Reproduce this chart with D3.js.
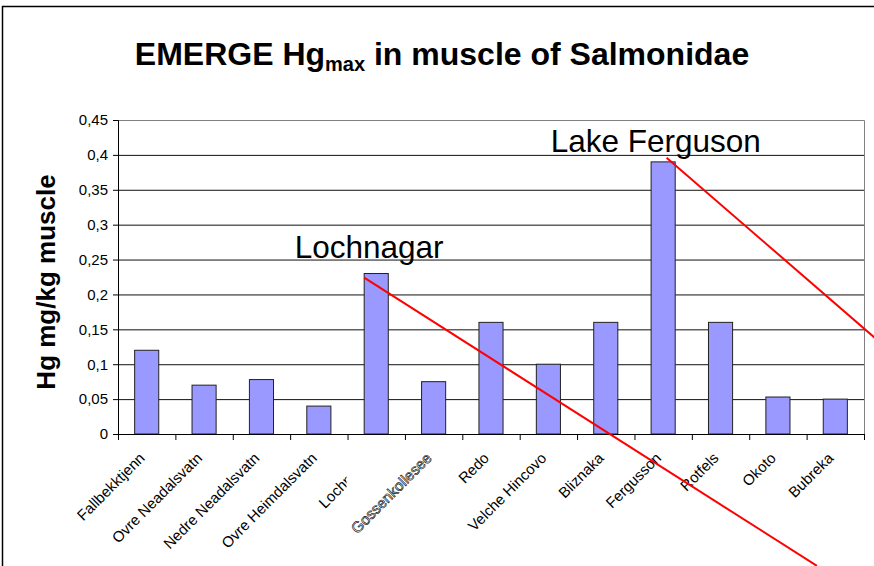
<!DOCTYPE html>
<html>
<head>
<meta charset="utf-8">
<script src="https://cdn.jsdelivr.net/npm/d3@7"></script>
<style>
  body { margin: 0; background: #fff; }
  svg { display: block; font-family: "Liberation Sans", Arial, sans-serif; }
</style>
</head>
<body>
<svg id="chart"></svg>
<script>
// lakes and Hg max values (mg/kg muscle)
const lakes = ["Fallbekktjenn", "Ovre Neadalsvatn", "Nedre Neadalsvatn", "Ovre Heimdalsvatn", "Lochnagar",
  "Gossenkollesee", "Redo", "Velche Hincovo", "Bliznaka", "Fergusson", "Rotfels", "Okoto", "Bubreka"];
const hgMax = [0.12, 0.07, 0.078, 0.04, 0.23, 0.075, 0.16, 0.1, 0.16, 0.39, 0.16, 0.053, 0.05];
const yTicks = [0, 0.05, 0.1, 0.15, 0.2, 0.25, 0.3, 0.35, 0.4, 0.45];

// callouts, in category-index / value units
const calloutLabels = ["Lochnagar", "Lake Ferguson"];
const calloutText = [[3.08, 0.252], [7.54, 0.404]];
const calloutFrom = [[4.29, 0.224], [9.56, 0.396]];
const calloutTo = [[12.18, -0.189], [13.65, 0.105]];

document.addEventListener("DOMContentLoaded", function(){
  const width = 874;
  const height = 566;
  const left = 118, right = 864, top = 120, bottom = 434;

  const svg = d3.select("#chart")
      .attr("width", width)
      .attr("height", height);

  // outer frame (top + left edge only visible)
  svg.append("path")
     .attr("d", `M2.5,${height} V6.5 H${width}`)
     .attr("fill", "none")
     .attr("stroke", "#000")
     .attr("stroke-width", 1.5);

  const x = d3.scaleBand()
      .domain(lakes)
      .range([left, right])
      .paddingInner(0.58)
      .paddingOuter(0.29);

  // continuous version of the category axis, for boundary ticks and callouts
  const xi = d3.scaleLinear()
      .domain([0, lakes.length])
      .range([left, right]);

  const y = d3.scaleLinear()
      .domain([0, 0.45])
      .range([bottom, top]);

  // grid lines
  svg.append("g")
     .attr("transform", `translate(${left},0)`)
     .call(d3.axisLeft(y).tickValues(yTicks.slice(1, -1)).tickSize(-(right - left)).tickFormat(""))
     .call(g => g.select(".domain").remove())
     .call(g => g.selectAll("line").attr("stroke", "#111"));

  // plot border top/right
  svg.append("path")
     .attr("d", `M${left},${top + 0.5} H${right + 0.5} V${bottom}`)
     .attr("fill", "none")
     .attr("stroke", "#808080");

  // bars
  svg.selectAll("rect.bar")
     .data(lakes)
     .enter()
     .append("rect")
     .attr("class", "bar")
     .attr("x", d => x(d))
     .attr("y", (d, i) => y(hgMax[i]))
     .attr("width", x.bandwidth())
     .attr("height", (d, i) => bottom - y(hgMax[i]))
     .attr("fill", "#9999ff")
     .attr("stroke", "#222")
     .attr("stroke-width", 1);

  // y axis
  svg.append("g")
     .attr("transform", `translate(${left},0)`)
     .call(d3.axisLeft(y).tickValues(yTicks).tickSize(5).tickPadding(5)
       .tickFormat(d => String(d).replace(".", ",")))
     .call(g => g.selectAll("text").attr("font-size", 15).attr("font-family", "Liberation Sans, Arial, sans-serif").attr("fill", "#000"))
     .call(g => g.selectAll("line, .domain").attr("stroke", "#000"));

  // x axis: ticks at category boundaries
  svg.append("g")
     .attr("transform", `translate(0,${bottom})`)
     .call(d3.axisBottom(xi).tickValues(d3.range(0, lakes.length + 1)).tickSize(6).tickSizeOuter(0).tickFormat(""))
     .call(g => g.selectAll("line, .domain").attr("stroke", "#000"));

  // clip for the truncated Lochnagar label
  svg.append("clipPath")
     .attr("id", "cutLoch")
     .append("rect")
     .attr("x", 0)
     .attr("y", 0)
     .attr("width", xi(4) - 1)
     .attr("height", height);

  // x labels, rotated
  const labels = svg.append("g")
     .selectAll("g")
     .data(lakes)
     .enter()
     .append("g")
     .attr("clip-path", (d, i) => i === 4 ? "url(#cutLoch)" : null);

  labels.append("text")
     .attr("transform", d => `translate(${x(d) + x.bandwidth() / 2 - 1},${bottom + 25}) rotate(-45)`)
     .attr("text-anchor", "end")
     .attr("font-size", 15)
     .attr("fill", (d, i) => i === 5 ? "#fff" : "#000")
     .attr("stroke", (d, i) => i === 5 ? "#000" : "none")
     .attr("stroke-width", 0.6)
     .text(d => d);

  // title
  const title = svg.append("text")
      .attr("x", 442)
      .attr("y", 65)
      .attr("text-anchor", "middle")
      .attr("font-size", 32)
      .attr("font-weight", "bold");
  title.append("tspan").text("EMERGE Hg");
  title.append("tspan").attr("font-size", 20).attr("dy", 6).text("max");
  title.append("tspan").attr("dy", -6).text(" in muscle of Salmonidae");

  // y title
  svg.append("text")
     .attr("transform", `translate(55,282) rotate(-90)`)
     .attr("text-anchor", "middle")
     .attr("font-size", 26)
     .attr("font-weight", "bold")
     .text("Hg mg/kg muscle");

  // callouts
  calloutLabels.forEach((lab, i) => {
    svg.append("line")
       .attr("x1", xi(calloutFrom[i][0]))
       .attr("y1", y(calloutFrom[i][1]))
       .attr("x2", xi(calloutTo[i][0]))
       .attr("y2", y(calloutTo[i][1]))
       .attr("stroke", "#ff0000")
       .attr("stroke-width", 2);
    svg.append("text")
       .attr("x", xi(calloutText[i][0]))
       .attr("y", y(calloutText[i][1]))
       .attr("font-size", 31.5)
       .attr("fill", "#000")
       .text(lab);
  });
});
</script>
</body>
</html>
